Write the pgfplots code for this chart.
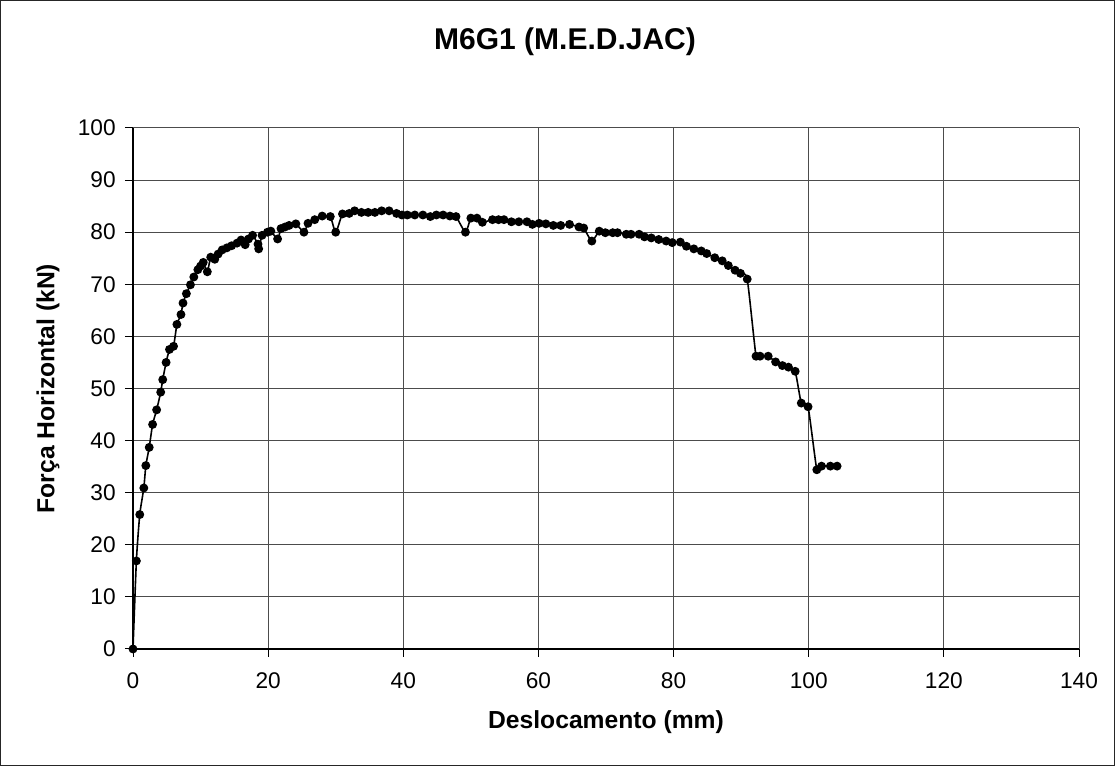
\documentclass[border=0pt]{standalone}
\usepackage{pgfplots}
\pgfplotsset{compat=1.18}
\usepackage{fontspec}
\setmainfont{Liberation Sans}
\begin{document}
\begin{tikzpicture}
\useasboundingbox (0,0) rectangle (836.25pt,574.5pt);
\draw[line width=0.9pt, black!85] (0.45pt,0.45pt) rectangle (835.8pt,574.05pt);
\begin{axis}[
  at={(99.75pt,87.75pt)}, anchor=south west,
  scale only axis, width=709.5pt, height=390.75pt,
  xmin=0, xmax=140, ymin=0, ymax=100,
  xtick={0,20,...,140}, ytick={0,10,...,100},
  axis x line*=bottom, axis y line*=left,
  axis line style={black, line width=0.9pt, -},
  grid=major,
  major grid style={black!70, line width=0.75pt},
  tick align=outside,
  major tick length=6pt,
  tick style={black, line width=0.75pt},
  /pgf/number format/assume math mode=true,
  tick label style={font=\fontsize{17}{19}\selectfont},
  xticklabel style={yshift=-8pt},
  yticklabel style={xshift=-3.5pt},
  title={\bfseries M6G1 (M.E.D.JAC)},
  title style={font=\fontsize{22.5}{24}\selectfont, at={(axis description cs:0.4567,1.150)}, anchor=center},
  xlabel={\bfseries Deslocamento (mm)},
  ylabel={\bfseries Força Horizontal (kN)},
  label style={font=\fontsize{18.5}{20}\selectfont},
  xlabel style={at={(axis description cs:0.5,-0.140)}, anchor=center},
  ylabel style={at={(axis description cs:-0.0899,0.5)}, anchor=center, rotate=0},
  clip=false,
]
\addplot[black, line width=1.2pt, smooth, tension=0.35, mark=*, mark size=2.7pt, mark options={solid, fill=black}] coordinates {
(0,0) (0.5,16.9) (1.0,25.8) (1.6,30.9) (1.9,35.2) (2.4,38.7) (2.9,43.1) (3.5,45.9)
(4.1,49.3) (4.4,51.7) (4.9,55.0) (5.4,57.5) (6.0,58.1) (6.5,62.3) (7.1,64.2) (7.4,66.4)
(7.9,68.2) (8.5,69.9) (9.0,71.4) (9.6,72.8) (10.0,73.5) (10.4,74.2) (11.0,72.4) (11.5,75.2)
(12.1,74.8) (12.6,75.8) (13.2,76.6) (13.9,77.0) (14.6,77.4) (15.4,77.9) (16.0,78.5) (16.6,77.6)
(17.1,78.7) (17.7,79.4) (18.5,77.7) (18.6,76.8) (19.1,79.4) (19.9,80.0) (20.4,80.2) (21.4,78.7)
(21.9,80.7) (22.5,81.0) (23.1,81.3) (24.1,81.6) (25.3,80.0) (25.9,81.7) (26.9,82.4) (28.0,83.1)
(29.2,83.0) (30.0,80.0) (31.0,83.5) (32.0,83.6) (32.8,84.1) (33.8,83.8) (34.8,83.8) (35.8,83.8)
(36.8,84.1) (37.9,84.1) (39.0,83.6) (39.8,83.3) (40.6,83.3) (41.7,83.3) (42.9,83.3) (44.0,83.0)
(44.9,83.3) (45.9,83.3) (46.9,83.1) (47.8,83.0) (49.2,80.0) (50.0,82.7) (50.9,82.7) (51.7,81.9)
(53.2,82.4) (54.1,82.4) (54.9,82.4) (56.0,82.0) (57.1,82.0) (58.3,82.0) (59.1,81.5) (60.1,81.7)
(61.1,81.6) (62.2,81.3) (63.3,81.3) (64.6,81.5) (66.0,81.0) (66.7,80.8) (67.9,78.3) (69.0,80.2)
(69.9,79.9) (71.0,79.9) (71.7,79.9) (73.0,79.6) (73.7,79.6) (74.9,79.6) (75.7,79.1) (76.7,78.9)
(77.8,78.6) (78.9,78.3) (79.8,78.0) (81.0,78.1) (81.9,77.3) (83.0,76.8) (84.1,76.4) (84.9,75.9)
(86.1,75.1) (87.2,74.5) (88.1,73.6) (89.1,72.7) (89.9,72.1) (90.9,71.0) (92.2,56.2) (92.8,56.2)
(94.0,56.2) (95.1,55.1) (96.1,54.4) (97.0,54.1) (98.0,53.3) (98.9,47.2) (99.9,46.5) (101.2,34.4)
(101.9,35.1) (103.2,35.1) (104.2,35.1)
};
\end{axis}
\end{tikzpicture}
\end{document}
